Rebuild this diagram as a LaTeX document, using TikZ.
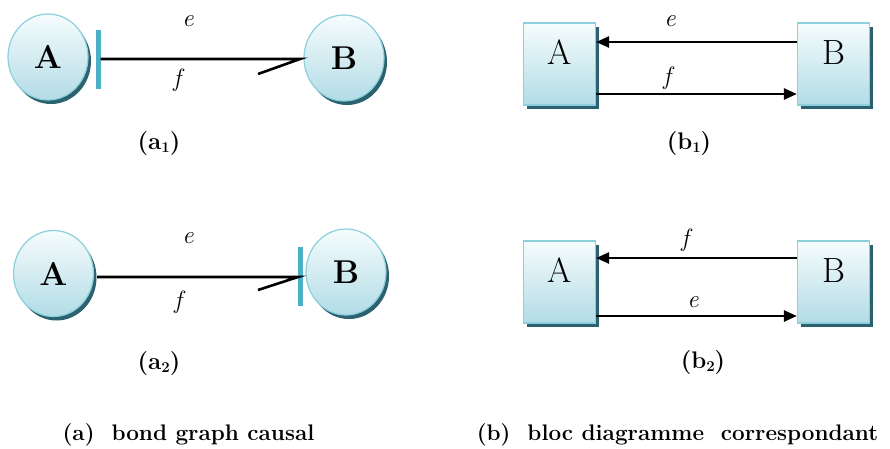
\documentclass[tikz,border=0pt]{standalone}
\usetikzlibrary{shapes.geometric,shadows,arrows.meta}
\definecolor{filltop}{HTML}{F6FCFD}
\definecolor{fillbot}{HTML}{B2DCE6}
\definecolor{edgec}{HTML}{8CCFDD}
\definecolor{shadowc}{HTML}{2C6270}
\definecolor{barc}{HTML}{4BB0C5}
\newcommand{\mysub}[1]{{\fontsize{15}{15}\selectfont\raisebox{-3pt}{#1}}}
\begin{document}
\begin{tikzpicture}[x=1pt,y=-1pt,
  bubble/.style={ellipse, draw=edgec, line width=1.2pt, top color=filltop, bottom color=fillbot,
    minimum width=80pt, minimum height=86pt, inner sep=0pt,
    font=\fontsize{33}{33}\selectfont\bfseries,
    drop shadow={shadow xshift=3pt,shadow yshift=-4pt,fill=shadowc,opacity=1}},
  blocbox/.style={rectangle, draw=edgec, line width=1.2pt, top color=filltop, bottom color=fillbot,
    minimum width=72pt, minimum height=82pt, inner sep=0pt, text height=23pt, text depth=22pt,
    font=\fontsize{35}{35}\selectfont,
    drop shadow={shadow xshift=3pt,shadow yshift=-3.5pt,fill=shadowc,opacity=1}},
  causal/.style={rectangle, fill=barc, minimum width=5pt, minimum height=59pt, inner sep=0pt},
  bond/.style={line width=2.6pt, black, line join=miter},
  sig/.style={line width=2.6pt, black, -{Triangle[length=13pt,width=11pt]}},
  var/.style={inner sep=0pt, font=\fontsize{25}{25}\selectfont\itshape},
  subcap/.style={inner sep=0pt, font=\fontsize{24}{24}\selectfont\bfseries},
  maincap/.style={inner sep=0pt, font=\fontsize{22.5}{22.5}\selectfont\bfseries}]
\useasboundingbox (0,0) rectangle (890,448);

% ---- (a1) ----
\node[bubble] (A1) at (48,57) {A};
\node[bubble] (B1) at (344,58) {B};
\node[causal] (k1) at (98,59) {};
\coordinate (t1) at (300,59);
\coordinate (h1) at (258,74);
\draw[bond] (k1.east) -- (t1) -- (h1);
\node[var] (e1) at (188,21) {e};
\node[var] (f1) at (177,80) {f};
\node[subcap] (ca1) at (159,144) {(a\mysub{1})};

% ---- (a2) ----
\node[bubble] (A2) at (53.5,273.5) {A};
\node[bubble] (B2) at (346,272) {B};
\node[causal] (k2) at (300,276) {};
\coordinate (s2) at (97,277);
\coordinate (t2) at (298,277);
\coordinate (h2) at (258,290);
\draw[bond] (s2) -- (t2) -- (h2);
\node[var] (e2) at (188,238) {e};
\node[var] (f2) at (178,302) {f};
\node[subcap] (ca2) at (159,364) {(a\mysub{2})};

% ---- (b1) ----
\node[blocbox] (P1) at (559.5,64) {A};
\node[blocbox] (Q1) at (833.5,64) {B};
\draw[sig] ([yshift=22pt]Q1.west) -- ([yshift=22pt]P1.east);
\draw[sig] ([yshift=-30pt]P1.east) -- ([yshift=-30pt]Q1.west);
\node[var] (e3) at (670,21) {e};
\node[var] (f3) at (667,78) {f};
\node[subcap] (cb1) at (689,144) {(b\mysub{1})};

% ---- (b2) ----
\node[blocbox] (P2) at (559.5,282) {A};
\node[blocbox] (Q2) at (833.5,282) {B};
\draw[sig] ([yshift=24pt]Q2.west) -- ([yshift=24pt]P2.east);
\draw[sig] ([yshift=-34pt]P2.east) -- ([yshift=-34pt]Q2.west);
\node[var] (f4) at (685,240) {f};
\node[var] (e4) at (693,302) {e};
\node[subcap] (cb2) at (703,363) {(b\mysub{2})};

% ---- captions ----
\node[maincap] (capa) at (188.5,435) {(a)\ \ bond graph causal};
\node[maincap] (capb) at (677.5,435) {(b)\ \ bloc diagramme\ \ correspondant};
\end{tikzpicture}
\end{document}
